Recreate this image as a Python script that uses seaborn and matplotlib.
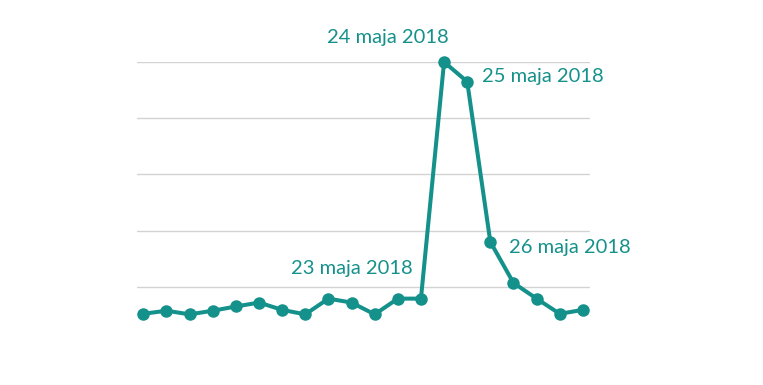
import matplotlib
matplotlib.use("Agg")
import matplotlib.pyplot as plt
import seaborn as sns
import pandas as pd

# values (gridlines at 20, 40, 60, 80, 100)
day_index = list(range(20))
values = [10.4, 11.5, 10.2, 11.5, 13.0, 14.4, 11.8, 10.2, 15.8, 14.4,
          10.2, 15.8, 15.8, 100.0, 93.0, 36.0, 21.4, 15.8, 10.4, 11.8]

# labelled points: index, text, pixel offset, alignment
label_idx = [12, 13, 14, 15]
label_text = ["23 maja 2018", "24 maja 2018", "25 maja 2018", "26 maja 2018"]
label_offset = [(-8, 30), (-56, 24), (15, 5), (19, -6)]
label_ha = ["right", "center", "left", "left"]

teal = "#15918b"

df = pd.DataFrame({"day": day_index, "value": values})

sns.set_style("white")
plt.rcParams["font.family"] = ["Lato", "DejaVu Sans"]

fig = plt.figure(figsize=(7.63, 3.85), dpi=100)
ax = fig.add_axes([0.18, 0.109, 0.593, 0.730])

sns.lineplot(data=df, x="day", y="value", color=teal, linewidth=2.9,
             marker="o", markersize=9, markeredgewidth=0, ax=ax, clip_on=False)

ax.set_xlim(-0.26, 19.3)
ax.set_ylim(0, 100)
ax.set_yticks([20, 40, 60, 80, 100])
ax.set_xticks([])
ax.yaxis.grid(True, color="#d3d3d3", linewidth=1)
ax.tick_params(left=False, labelleft=False)
ax.set_xlabel("")
ax.set_ylabel("")
sns.despine(ax=ax, left=True, bottom=True)
ax.set_axisbelow(True)

for i, txt, off, ha in zip(label_idx, label_text, label_offset, label_ha):
    ax.annotate(txt, (day_index[i], values[i]), xytext=off,
                textcoords="offset pixels", ha=ha, va="center",
                fontsize=14.5, color=teal, annotation_clip=False)

plt.savefig("out.png", dpi=100)
